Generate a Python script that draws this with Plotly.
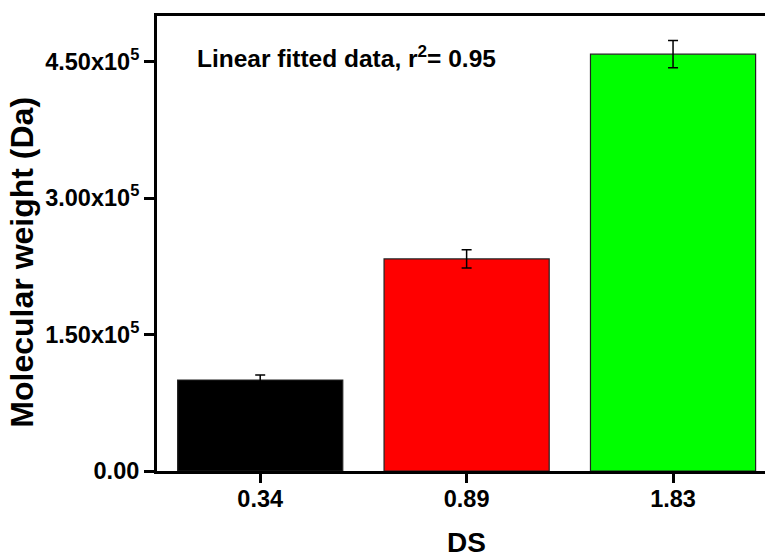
import plotly.graph_objects as go

categories = ["0.34", "0.89", "1.83"]
mw_values = [1.00e5, 2.33e5, 4.58e5]
mw_errors = [5.5e3, 1.0e4, 1.5e4]
bar_colors = ["#000000", "#FF0000", "#00FF00"]
y_tickvals = [0, 1.5e5, 3.0e5, 4.5e5]
y_ticktext = ["0.00", "1.50x10<sup>5</sup>", "3.00x10<sup>5</sup>", "4.50x10<sup>5</sup>"]

FONT = "Liberation Sans, Arial, sans-serif"

fig = go.Figure()
fig.add_trace(go.Bar(
    x=categories, y=mw_values,
    marker=dict(color=bar_colors, line=dict(color="#222222", width=1.2)),
    width=0.8,
    error_y=dict(type="data", array=mw_errors, visible=True,
                 color="#000000", thickness=1.5, width=5),
))

fig.update_layout(
    width=765, height=552,
    margin=dict(l=157, r=0, t=16, b=81),
    plot_bgcolor="white", paper_bgcolor="white",
    showlegend=False,
    font=dict(family=FONT, color="black"),
    xaxis=dict(
        type="category", range=[-0.5, 2.4455],
        showline=True, linecolor="black", linewidth=3, mirror=True,
        ticks="outside", ticklen=9, tickwidth=3, tickcolor="black",
        tickfont=dict(size=23.5, family=FONT, weight="bold"),
        ticklabelstandoff=-4,
        showgrid=False, zeroline=False,
    ),
    yaxis=dict(
        range=[0, 5.0e5],
        tickvals=y_tickvals, ticktext=y_ticktext,
        showline=True, linecolor="black", linewidth=3, mirror=False,
        ticks="outside", ticklen=10, tickwidth=3, tickcolor="black",
        tickfont=dict(size=23.5, family=FONT, weight="bold"),
        showgrid=False, zeroline=False,
    ),
)

fig.add_annotation(
    text="<b>Molecular weight (Da)</b>",
    xref="paper", yref="paper", x=-0.222, y=0.458,
    xanchor="center", yanchor="middle", textangle=-90, showarrow=False,
    font=dict(size=32, family=FONT, color="black"),
)
fig.add_annotation(
    text="<b>Linear fitted data, r<sup>2</sup>= 0.95</b>",
    xref="paper", yref="paper", x=0.0625, y=0.912,
    xanchor="left", yanchor="middle", showarrow=False,
    font=dict(size=24.5, family=FONT, color="black"),
)
fig.add_annotation(
    text="<b>DS</b>",
    xref="x", yref="paper", x=1, y=-0.118,
    xanchor="center", yanchor="top", showarrow=False,
    font=dict(size=28, family=FONT, color="black"),
)

fig.write_html("out.html", config={"displayModeBar": False},
               post_script="document.body.style.margin='0';")
